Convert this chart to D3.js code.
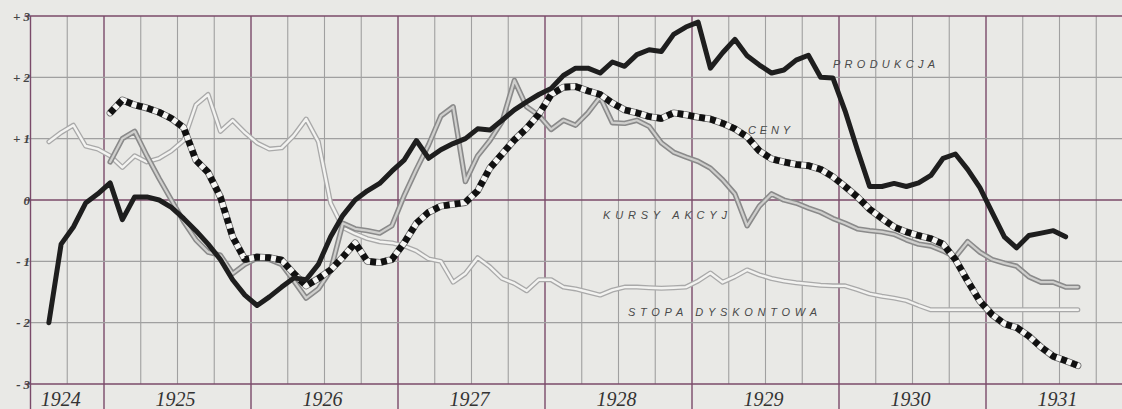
<!DOCTYPE html>
<html><head><meta charset="utf-8">
<script src="https://cdn.jsdelivr.net/npm/d3@7"></script>
<style>html,body{margin:0;padding:0;background:#e9e9e6;} svg{display:block}</style>
</head><body>
<svg id="c" width="1122" height="409"></svg>
<script>
// ---- data (monthly index values) ----
const years = [1924, 1925, 1926, 1927, 1928, 1929, 1930, 1931];
const yearLabels = ["1924", "1925", "1926", "1927", "1928", "1929", "1930", "1931"];
const yTickValues = [3, 2, 1, 0, -1, -2, -3];
const yTickLabels = ["+3", "+2", "+1", "0", "-1", "-2", "-3"];
const seriesNames = ["PRODUKCJA", "CENY", "KURSY AKCYJ", "STOPA DYSKONTOWA"];

// PRODUKCJA: Aug 1924 – Jul 1931
const produkcjaStart = [1924, 8];
const produkcja = [
  -2.0, -0.72, -0.44, -0.05, 0.1,
  0.28, -0.32, 0.05, 0.05, 0.0, -0.12, -0.3, -0.5, -0.72, -0.97, -1.3, -1.55,
  -1.72, -1.58, -1.42, -1.27, -1.3, -1.05, -0.6, -0.25, 0.0, 0.15, 0.27, 0.47,
  0.65, 0.97, 0.68, 0.82, 0.92, 1.0, 1.16, 1.14, 1.3, 1.47, 1.6, 1.72,
  1.82, 2.03, 2.15, 2.15, 2.07, 2.25, 2.18, 2.37, 2.45, 2.42, 2.7, 2.82,
  2.9, 2.15, 2.4, 2.62, 2.35, 2.2, 2.07, 2.12, 2.28, 2.36, 2.0, 1.99,
  1.45, 0.82, 0.22, 0.22, 0.27, 0.22, 0.28, 0.4, 0.68, 0.75, 0.5, 0.2,
  -0.2, -0.6, -0.78, -0.58, -0.54, -0.5, -0.6
];

// CENY: Jan 1925 – Aug 1931
const cenyStart = [1925, 1];
const ceny = [
  1.42, 1.63, 1.55, 1.5, 1.43, 1.33, 1.18, 0.65, 0.45, 0.05, -0.6, -0.97,
  -0.93, -0.94, -0.98, -1.2, -1.4, -1.28, -1.14, -0.93, -0.7, -1.0, -1.02, -0.97,
  -0.7, -0.38, -0.2, -0.1, -0.07, -0.04, 0.15, 0.52, 0.75, 0.98, 1.17, 1.4,
  1.72, 1.84, 1.85, 1.78, 1.72, 1.58, 1.47, 1.42, 1.36, 1.33, 1.42, 1.39,
  1.35, 1.32, 1.25, 1.16, 1.03, 0.8, 0.67, 0.62, 0.58, 0.56, 0.5, 0.38,
  0.22, 0.05, -0.15, -0.3, -0.44, -0.52, -0.58, -0.63, -0.72, -0.97, -1.32, -1.65,
  -1.87, -2.02, -2.08, -2.22, -2.4, -2.55, -2.62, -2.7
];

// KURSY AKCYJ: Jan 1925 – Aug 1931
const kursyStart = [1925, 1];
const kursy = [
  0.62, 1.0, 1.12, 0.72, 0.35, 0.0, -0.35, -0.65, -0.85, -0.9, -1.2, -1.05,
  -0.95, -0.97, -1.05, -1.32, -1.6, -1.45, -1.15, -0.38, -0.47, -0.5, -0.54, -0.42,
  0.07, 0.5, 0.9, 1.37, 1.52, 0.3, 0.72, 0.97, 1.28, 1.95, 1.52, 1.38,
  1.15, 1.3, 1.22, 1.42, 1.68, 1.26, 1.25, 1.3, 1.2, 0.93, 0.78, 0.7,
  0.63, 0.52, 0.33, 0.1, -0.42, -0.1, 0.1, 0.0, -0.05, -0.13, -0.2, -0.3,
  -0.38, -0.47, -0.5, -0.52, -0.56, -0.65, -0.72, -0.75, -0.83, -0.93, -0.68, -0.85,
  -0.97, -1.03, -1.08, -1.25, -1.34, -1.34, -1.42, -1.42
];

// STOPA DYSKONTOWA: Aug 1924 – Aug 1931
const stopaStart = [1924, 8];
const stopa = [
  0.95, 1.1, 1.22, 0.88, 0.83,
  0.72, 0.53, 0.72, 0.62, 0.68, 0.8, 0.97, 1.55, 1.72, 1.12, 1.3, 1.1,
  0.93, 0.83, 0.85, 1.05, 1.32, 0.95, -0.05, -0.45, -0.55, -0.63, -0.68, -0.7,
  -0.75, -0.83, -0.96, -1.0, -1.34, -1.2, -0.94, -1.09, -1.28, -1.36, -1.48, -1.3,
  -1.3, -1.42, -1.45, -1.5, -1.55, -1.47, -1.42, -1.42, -1.43, -1.44, -1.43, -1.42,
  -1.32, -1.19, -1.34, -1.25, -1.14, -1.22, -1.28, -1.32, -1.35, -1.37, -1.39, -1.4,
  -1.4, -1.46, -1.53, -1.57, -1.6, -1.64, -1.72, -1.79, -1.79, -1.79, -1.79, -1.79,
  -1.79, -1.79, -1.79, -1.79, -1.79, -1.79, -1.79, -1.79
];

// ---- drawing ----
const svg = d3.select("#c");
const W = 1122, H = 409;
const x = d3.scaleLinear().domain([1924.5, 1932]).range([30.5, 1133]);
const y = d3.scaleLinear().domain([-3, 3]).range([384, 16]);

svg.append("rect").attr("width", W).attr("height", H).attr("fill", "#e9e9e6");

const purple = "#7a4a69", gray = "#a0a0a0";

// vertical grid (quarters)
const quarters = d3.range(1924.75, 1931.76, 0.25);
svg.append("g").selectAll("line").data(quarters).join("line")
  .attr("x1", d => x(d)).attr("x2", d => x(d))
  .attr("y1", y(3)).attr("y2", d => Number.isInteger(d) ? H : y(-3))
  .attr("stroke", d => Number.isInteger(d) ? purple : gray)
  .attr("stroke-width", d => Number.isInteger(d) ? 1.4 : 1.1);

// horizontal grid
svg.append("g").selectAll("line").data(yTickValues).join("line")
  .attr("x1", x(1924.5) - 6).attr("x2", W)
  .attr("y1", d => y(d)).attr("y2", d => y(d))
  .attr("stroke", d => (d === 0 || Math.abs(d) === 3) ? purple : gray)
  .attr("stroke-width", d => (d === 0 || Math.abs(d) === 3) ? 1.5 : 1.1);

// left axis
svg.append("line").attr("x1", x(1924.5)).attr("x2", x(1924.5))
  .attr("y1", y(3)).attr("y2", H).attr("stroke", purple).attr("stroke-width", 1.4);

// y tick labels
svg.append("g").selectAll("text").data(yTickValues).join("text")
  .attr("x", 33).attr("y", d => y(d) + 4.5)
  .attr("text-anchor", "end")
  .attr("font-family", "Liberation Serif, serif").attr("font-style", "italic")
  .attr("font-weight", "bold")
  .attr("font-size", 13).attr("letter-spacing", 3).attr("fill", "#444")
  .text((d, i) => yTickLabels[i]);

// year labels
svg.append("g").selectAll("text").data(years).join("text")
  .attr("x", d => x(d === 1924 ? 1924.72 : d + 0.5) - 2)
  .attr("y", 406)
  .attr("text-anchor", "middle")
  .attr("font-family", "Liberation Serif, serif").attr("font-style", "italic")
  .attr("font-size", 20).attr("fill", "#333")
  .text((d, i) => yearLabels[i]);

function toPoints(start, vals) {
  return vals.map((v, i) => ({ t: start[0] + (start[1] - 1 + i + 0.5) / 12, v }));
}
const line = d3.line().x(d => x(d.t)).y(d => y(d.v));

function drawPath(pts, stroke, width, dash, offset) {
  const p = svg.append("path").datum(pts).attr("d", line)
    .attr("fill", "none").attr("stroke", stroke).attr("stroke-width", width)
    .attr("stroke-linejoin", "round").attr("stroke-linecap", dash ? "butt" : "round");
  if (dash) p.attr("stroke-dasharray", dash).attr("stroke-dashoffset", offset || 0);
  return p;
}

// STOPA DYSKONTOWA – light double line
const pS = toPoints(stopaStart, stopa);
drawPath(pS, "#a9a9a9", 5.0);
drawPath(pS, "#f3f3f1", 2.4);

// KURSY AKCYJ – darker double line
const pK = toPoints(kursyStart, kursy);
drawPath(pK, "#8a8a8a", 5.4);
drawPath(pK, "#cfcfcd", 2.2);

// CENY – alternating black / white blocks
const pC = toPoints(cenyStart, ceny);
drawPath(pC, "#6a6a6a", 7.0);
drawPath(pC, "#f6f6f4", 5.4);
drawPath(pC, "#111", 6.6, "6,5", 0);

// PRODUKCJA – thick black
const pP = toPoints(produkcjaStart, produkcja);
drawPath(pP, "#1e1e1e", 5.0);

// series labels
const labelSpecs = [
  { x: 833, y: 68, w: 102 },
  { x: 748, y: 134, w: 42 },
  { x: 603, y: 219, w: 124 },
  { x: 628, y: 316, w: 189 }
];
svg.append("g").selectAll("text").data(seriesNames).join("text")
  .attr("x", (d, i) => labelSpecs[i].x).attr("y", (d, i) => labelSpecs[i].y)
  .attr("textLength", (d, i) => labelSpecs[i].w).attr("lengthAdjust", "spacing")
  .attr("font-family", "Liberation Sans, Arial, sans-serif").attr("font-style", "italic")
  .attr("font-size", 11).attr("fill", "#4a4a4a")
  .text(d => d);
</script>
</body></html>
